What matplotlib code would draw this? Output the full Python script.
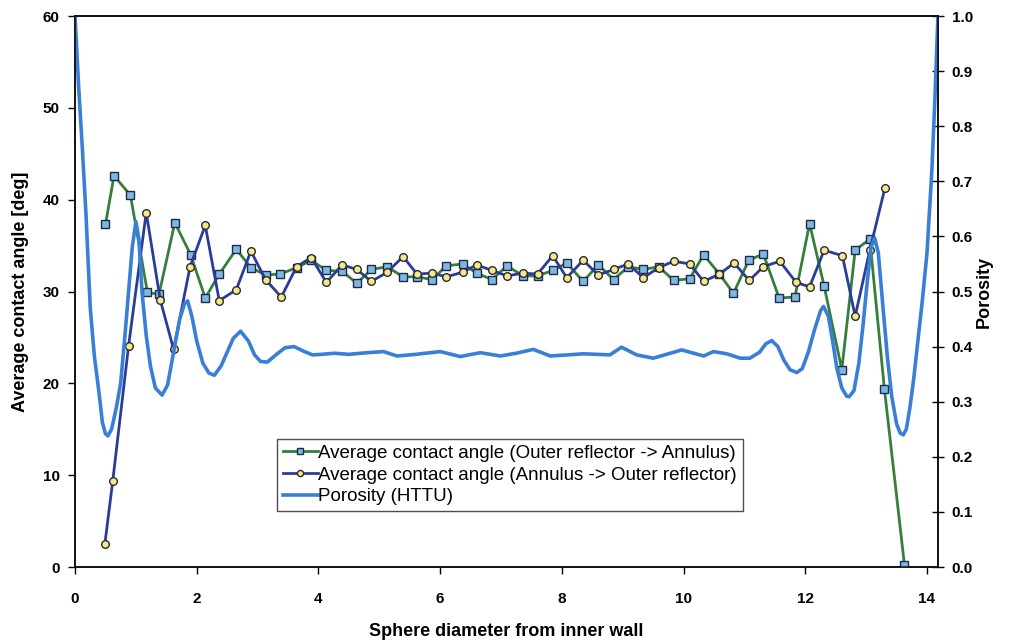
import matplotlib
matplotlib.use('Agg')
import matplotlib.pyplot as plt
from matplotlib.ticker import MultipleLocator, FormatStrFormatter

plt.rcParams['font.family'] = ['Liberation Sans', 'DejaVu Sans']

# contact angle, outer reflector -> annulus
x_out = [0.50, 0.64, 0.91, 1.19, 1.38, 1.64, 1.90, 2.14, 2.37, 2.65, 2.89, 3.13, 3.37, 3.64,
         3.88, 4.13, 4.39, 4.63, 4.87, 5.13, 5.39, 5.62, 5.87, 6.10, 6.37, 6.60, 6.85, 7.10,
         7.36, 7.60, 7.85, 8.08, 8.35, 8.60, 8.85, 9.09, 9.34, 9.59, 9.84, 10.10, 10.33,
         10.59, 10.82, 11.07, 11.31, 11.57, 11.83, 12.07, 12.31, 12.60, 12.82, 13.06, 13.30,
         13.63]
ang_out = [37.3, 42.6, 40.5, 29.9, 29.7, 37.5, 34.0, 29.3, 31.9, 34.6, 32.6, 31.8, 31.9, 32.6,
           33.4, 32.3, 32.2, 30.9, 32.4, 32.7, 31.6, 31.6, 31.3, 32.8, 33.0, 32.0, 31.3, 32.8,
           31.7, 31.7, 32.3, 33.1, 31.1, 32.9, 31.3, 32.7, 32.4, 32.7, 31.2, 31.4, 34.0,
           31.9, 29.8, 33.4, 34.1, 29.3, 29.4, 37.4, 30.6, 21.5, 34.5, 35.7, 19.4,
           0.2]

# contact angle, annulus -> outer reflector
x_in = [0.49, 0.62, 0.88, 1.17, 1.40, 1.62, 1.89, 2.14, 2.37, 2.65, 2.89, 3.13, 3.39, 3.64,
        3.88, 4.13, 4.39, 4.63, 4.87, 5.13, 5.39, 5.62, 5.87, 6.10, 6.37, 6.60, 6.85, 7.10,
        7.36, 7.60, 7.85, 8.08, 8.35, 8.60, 8.85, 9.09, 9.34, 9.59, 9.84, 10.10, 10.33,
        10.59, 10.83, 11.08, 11.31, 11.58, 11.85, 12.07, 12.31, 12.61, 12.82, 13.06, 13.31]
ang_in = [2.5, 9.4, 24.1, 38.6, 29.1, 23.7, 32.7, 37.2, 29.0, 30.2, 34.4, 31.3, 29.4, 32.7,
          33.7, 31.0, 32.9, 32.4, 31.1, 32.1, 33.8, 31.9, 32.0, 31.6, 32.1, 32.9, 32.3, 31.7,
          32.0, 31.9, 33.9, 31.5, 33.4, 31.8, 32.4, 33.0, 31.5, 32.6, 33.3, 33.0, 31.1,
          31.9, 33.1, 31.2, 32.7, 33.3, 31.0, 30.5, 34.5, 33.9, 27.3, 34.5, 41.3]

# radial porosity profile (HTTU)
x_por = [0.00, 0.06, 0.12, 0.18, 0.25, 0.32, 0.39, 0.45, 0.50, 0.54, 0.60, 0.68, 0.75, 0.82,
         0.88, 0.94, 1.00, 1.05, 1.10, 1.17, 1.24, 1.32, 1.43, 1.52, 1.62, 1.72, 1.80, 1.85,
         1.92, 2.00, 2.10, 2.20, 2.29, 2.40, 2.50, 2.60, 2.72, 2.85, 2.95, 3.05, 3.16, 3.30,
         3.45, 3.60, 3.75, 3.90, 4.05, 4.26, 4.50, 4.80, 5.07, 5.29, 5.60, 6.00, 6.33, 6.66,
         6.99, 7.25, 7.53, 7.81, 8.10, 8.35, 8.79, 8.98, 9.23, 9.50, 9.97, 10.33, 10.49,
         10.71, 10.93, 11.09, 11.25, 11.35, 11.45, 11.55, 11.65, 11.75, 11.86, 11.95, 12.05,
         12.15, 12.25, 12.30, 12.38, 12.45, 12.52, 12.60, 12.68, 12.72, 12.80, 12.88, 12.95,
         13.02, 13.08, 13.14, 13.20, 13.27, 13.35, 13.42, 13.50, 13.56, 13.61, 13.66, 13.72,
         13.78, 13.84, 13.92, 14.00, 14.08, 14.13, 14.18]
porosity = [1.000, 0.870, 0.760, 0.640, 0.470, 0.380, 0.320, 0.262, 0.242, 0.238, 0.250, 0.290,
            0.334, 0.420, 0.500, 0.580, 0.627, 0.595, 0.500, 0.420, 0.364, 0.325, 0.312, 0.330,
            0.390, 0.450, 0.478, 0.483, 0.455, 0.410, 0.370, 0.352, 0.348, 0.365, 0.390, 0.415,
            0.428, 0.410, 0.385, 0.373, 0.372, 0.385, 0.398, 0.400, 0.392, 0.385, 0.386, 0.388,
            0.386, 0.389, 0.391, 0.383, 0.386, 0.391, 0.382, 0.389, 0.383, 0.388, 0.395, 0.383,
            0.385, 0.387, 0.385, 0.399, 0.385, 0.379, 0.394, 0.383, 0.391, 0.387, 0.379, 0.379,
            0.390, 0.405, 0.411, 0.400, 0.375, 0.358, 0.353, 0.360, 0.390, 0.430, 0.465, 0.473,
            0.455, 0.410, 0.360, 0.325, 0.310, 0.309, 0.320, 0.370, 0.440, 0.520, 0.580, 0.597,
            0.570, 0.480, 0.380, 0.310, 0.260, 0.243, 0.240, 0.250, 0.290, 0.340, 0.400, 0.480,
            0.570, 0.720, 0.850, 1.000]

fig = plt.figure(figsize=(10.14, 6.4), dpi=100)
ax = fig.add_axes([0.074, 0.114, 0.851, 0.861])
ax2 = ax.twinx()

l1, = ax.plot(x_out, ang_out, color='#357f3c', lw=2, marker='s', ms=5.5,
              mfc='#7db7e3', mec='#1f2a44', mew=1, zorder=3,
              label='Average contact angle (Outer reflector -> Annulus)')
l2, = ax.plot(x_in, ang_in, color='#2a3c9a', lw=2, marker='o', ms=5.5,
              mfc='#f3e88c', mec='#2a2a2a', mew=1, zorder=4,
              label='Average contact angle (Annulus -> Outer reflector)')
l3, = ax2.plot(x_por, porosity, color='#3a7fd6', lw=2.6, label='Porosity (HTTU)')

ax.set_xlim(0, 14.18)
ax.set_ylim(0, 60)
ax2.set_ylim(0, 1.0)
ax.xaxis.set_major_locator(MultipleLocator(2))
ax.yaxis.set_major_locator(MultipleLocator(10))
ax2.yaxis.set_major_locator(MultipleLocator(0.1))
ax2.yaxis.set_major_formatter(FormatStrFormatter('%.1f'))

for a in (ax, ax2):
    for s in a.spines.values():
        s.set_linewidth(1.2)
        s.set_color('#111111')
ax.tick_params(axis='y', direction='out', length=5, width=1, labelsize=11, pad=6)
ax.tick_params(axis='x', direction='out', length=5, width=1, labelsize=11, pad=13)
ax2.tick_params(axis='y', direction='inout', length=8, width=1, labelsize=11, pad=6)
for lab in ax.get_xticklabels() + ax.get_yticklabels() + ax2.get_yticklabels():
    lab.set_fontweight('bold')

ax.set_xlabel('Sphere diameter from inner wall', fontsize=13, fontweight='bold', labelpad=12)
ax.set_ylabel('Average contact angle [deg]', fontsize=13, fontweight='bold', labelpad=10)
ax2.set_ylabel('Porosity', fontsize=13, fontweight='bold', labelpad=2)

leg = ax2.legend(handles=[l1, l2, l3], loc='center', bbox_to_anchor=(0.504, 0.167),
                 fontsize=13.5, frameon=True, fancybox=False, handlelength=1.85,
                 handletextpad=0.05, borderpad=0.3, labelspacing=0.25, borderaxespad=0,
                 markerscale=0.8)
leg.get_frame().set_edgecolor('#222222')
leg.get_frame().set_linewidth(1)

fig.savefig('out.png', dpi=100)
